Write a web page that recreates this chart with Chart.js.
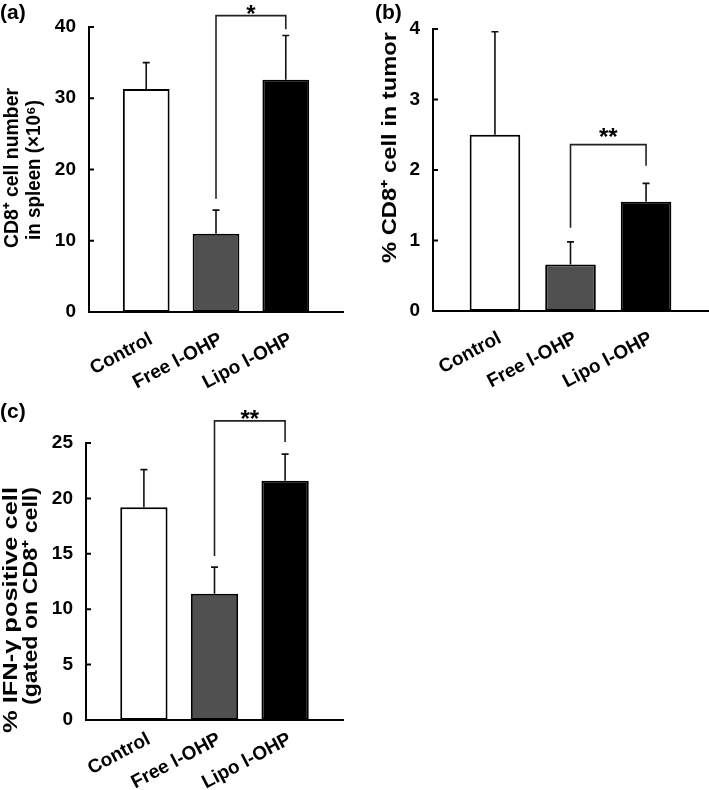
<!DOCTYPE html>
<html>
<head>
<meta charset="UTF-8">
<title>CD8+ T cells after l-OHP</title>
<script src="https://cdn.jsdelivr.net/npm/chart.js"></script>
<style>
  body { margin: 0; background: #fff; width: 709px; height: 790px; position: relative; overflow: hidden; }
  canvas { position: absolute; }
</style>
</head>
<body>
<canvas id="chartA" width="354" height="395" style="left:0;top:0"></canvas>
<canvas id="chartB" width="355" height="395" style="left:354px;top:0"></canvas>
<canvas id="chartC" width="354" height="395" style="left:0;top:395px"></canvas>

<script>
// groups on the x axis
const groups = ['Control', 'Free l-OHP', 'Lipo l-OHP'];

// (a) CD8+ cells in spleen (x10^6)
const spleenMean = [31.3, 11.0, 32.6];
const spleenSd = [3.7, 3.3, 6.2];
const spleenTicks = [0, 10, 20, 30, 40];
const spleenBracket = [15.9, 41.6, 39.7];   // left foot, top, right foot
const spleenMark = '*';

// (b) % CD8+ cells in tumor
const tumorMean = [2.50, 0.66, 1.55];
const tumorSd = [1.46, 0.32, 0.26];
const tumorTicks = [0, 1, 2, 3, 4];
const tumorBracket = [1.18, 2.36, 2.06];
const tumorMark = '**';

// (c) % IFN-gamma positive (gated on CD8+)
const ifnMean = [19.2, 11.4, 21.6];
const ifnSd = [3.4, 2.4, 2.4];
const ifnTicks = [0, 5, 10, 15, 20, 25];
const ifnBracket = [14.8, 27.0, 25.1];
const ifnMark = '**';

const FONT = "'Liberation Sans', Arial, sans-serif";
Chart.defaults.font.family = FONT;
Chart.defaults.font.weight = 'bold';
Chart.defaults.font.size = 19;
Chart.defaults.color = '#000';

function drawRotated(ctx, text, cx, cy, len) {
  const w = ctx.measureText(text).width;
  ctx.save();
  ctx.translate(cx, cy);
  ctx.rotate(-Math.PI / 2);
  ctx.scale(len / w, 1);
  ctx.textAlign = 'center';
  ctx.textBaseline = 'middle';
  ctx.fillText(text, 0, 0);
  ctx.restore();
}

function decor(p) {
  return {
    id: 'decor',
    afterDatasetsDraw(chart) {
      const ctx = chart.ctx;
      const xs = chart.scales.x, ys = chart.scales.y;
      const area = chart.chartArea;
      const bars = chart.getDatasetMeta(0).data;
      ctx.save();

      // error bars (upper only)
      ctx.strokeStyle = '#111';
      ctx.lineWidth = 1.6;
      ctx.beginPath();
      bars.forEach((bar, i) => {
        const top = ys.getPixelForValue(p.mean[i] + p.sd[i]);
        ctx.moveTo(bar.x, bar.y);
        ctx.lineTo(bar.x, top);
        ctx.moveTo(bar.x - 3.5, top);
        ctx.lineTo(bar.x + 3.5, top);
      });
      ctx.stroke();

      // significance bracket between Free and Lipo
      const xl = xs.getPixelForValue(2), xr = xs.getPixelForValue(3);
      const yl = ys.getPixelForValue(p.bracket[0]);
      const yt = ys.getPixelForValue(p.bracket[1]);
      const yr = ys.getPixelForValue(p.bracket[2]);
      ctx.strokeStyle = '#222';
      ctx.lineWidth = 1.6;
      ctx.beginPath();
      ctx.moveTo(xl, yl);
      ctx.lineTo(xl, yt);
      ctx.lineTo(xr, yt);
      ctx.lineTo(xr, yr);
      ctx.stroke();
      ctx.fillStyle = '#000';
      ctx.font = 'bold 24px ' + FONT;
      ctx.textAlign = 'center';
      ctx.textBaseline = 'alphabetic';
      ctx.fillText(p.mark, (xl + xr) / 2, yt + p.markDy);

      // inward tick marks on the y axis
      ctx.strokeStyle = '#000';
      ctx.lineWidth = 2;
      ctx.beginPath();
      ys.ticks.forEach(t => {
        const py = ys.getPixelForValue(t.value);
        ctx.moveTo(area.left, py);
        ctx.lineTo(area.left + 5, py);
      });
      ctx.stroke();

      // panel letter and axis title
      ctx.fillStyle = '#000';
      ctx.font = 'bold 21px ' + FONT;
      ctx.textAlign = 'left';
      ctx.textBaseline = 'top';
      ctx.fillText(p.letter[0], p.letter[1], p.letter[2]);
      ctx.font = 'bold 20px ' + FONT;
      p.title.forEach(l => drawRotated(ctx, l[0], l[1], l[2], l[3]));
      ctx.restore();
    }
  };
}

function makeChart(id, p) {
  return new Chart(document.getElementById(id), {
    type: 'bar',
    data: {
      datasets: [{
        data: p.mean.map((v, i) => ({ x: i + 1, y: v })),
        backgroundColor: ['#ffffff', '#505050', '#000000'],
        borderColor: '#000',
        borderWidth: 2,
        borderSkipped: false,
        barPercentage: 0.67,
        categoryPercentage: 1
      }]
    },
    options: {
      responsive: false,
      animation: false,
      devicePixelRatio: 1,
      layout: { padding: p.pad },
      plugins: { legend: { display: false }, tooltip: { enabled: false } },
      scales: {
        x: {
          type: 'linear',
          offset: false,
          min: 0.18,
          max: 3.82,
          grid: { display: false, drawTicks: false, offset: false },
          border: { display: true, color: '#000', width: 2 },
          afterBuildTicks: s => { s.ticks = groups.map((g, i) => ({ value: i + 1 })); },
          ticks: {
            callback: v => groups[v - 1],
            minRotation: 28,
            maxRotation: 28,
            padding: p.xPad,
            labelOffset: 5,
            font: { size: 19, weight: 'bold' }
          },
          afterFit: s => { s.height = p.xHeight; }
        },
        y: {
          min: 0,
          max: p.ticks[p.ticks.length - 1],
          grid: { display: false, drawTicks: false },
          border: { display: true, color: '#000', width: 2 },
          afterBuildTicks: s => { s.ticks = p.ticks.map(v => ({ value: v })); },
          ticks: { padding: 13, font: { size: 19, weight: 'bold' } },
          afterFit: s => { s.width = p.yWidth; }
        }
      }
    },
    plugins: [decor(p)]
  });
}

makeChart('chartA', {
  mean: spleenMean, sd: spleenSd, ticks: spleenTicks,
  bracket: spleenBracket, mark: spleenMark, markDy: 6.5,
  pad: { top: 27, right: 11, left: 0, bottom: 0 }, yWidth: 89, xHeight: 83, xPad: 16,
  letter: ['(a)', 0, 3],
  title: [['CD8⁺ cell number', 12.5, 168, 160], ['in spleen (×10⁶)', 34, 170, 140]]
});

makeChart('chartB', {
  mean: tumorMean, sd: tumorSd, ticks: tumorTicks,
  bracket: tumorBracket, mark: tumorMark, markDy: 0.5,
  pad: { top: 29, right: 1, left: 0, bottom: 0 }, yWidth: 79, xHeight: 84, xPad: 16,
  letter: ['(b)', 21, 3],
  title: [['% CD8⁺ cell in tumor', 36.5, 147.5, 231]]
});

makeChart('chartC', {
  mean: ifnMean, sd: ifnSd, ticks: ifnTicks,
  bracket: ifnBracket, mark: ifnMark, markDy: 6.6,
  pad: { top: 48, right: 11, left: 0, bottom: 0 }, yWidth: 86, xHeight: 70, xPad: 8,
  letter: ['(c)', 0, 7],
  title: [['% IFN-γ positive cell', 11, 215, 246], ['(gated on CD8⁺ cell)', 31, 201, 218]]
});
</script>
</body>
</html>
